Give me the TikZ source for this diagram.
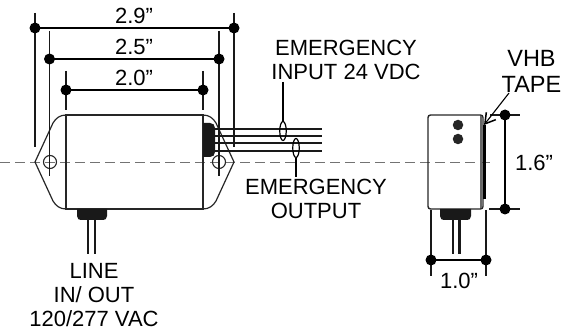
\documentclass[tikz,border=0pt]{standalone}
\usepackage{fontspec}
\setmainfont{Liberation Sans}
\usetikzlibrary{arrows.meta,shapes.geometric}
\tikzset{
  x=1pt,y=-1pt,
  lbl/.style={inner sep=0pt,font=\fontsize{22}{24}\selectfont,text=black,align=center},
  dot/.style={circle,fill=black,draw=none,minimum size=11pt,inner sep=0pt},
  dim/.style={line width=1.3pt,draw=black},
  ext/.style={line width=1.2pt,draw=black!90},
  body/.style={line width=1.4pt,draw=black!85},
  wire/.style={line width=2.4pt,draw=black!90},
  blk/.style={fill=black!90,draw=none},
  ctr/.style={line width=.9pt,draw=black!55,dash pattern=on 10pt off 5pt},
  lens/.style={draw=black,line width=1.2pt,ellipse,minimum width=6.5pt,minimum height=19pt,inner sep=0pt}
}
\begin{document}
\begin{tikzpicture}
\useasboundingbox (0,0) rectangle (564,328);
% centre line
\draw[ctr] (0,162) -- (494,162);
% front view body
\draw[body] (66,115) -- (203,115) -- (203,209) -- (66,209) -- cycle;
\draw[body,line width=1.2pt] (66,115) .. controls (60,115) and (56,118) .. (53,123) -- (35,162) -- (53,201) .. controls (56,206) and (60,209) .. (66,209);
\draw[body,line width=1.2pt] (203,115) .. controls (209,115) and (213,118) .. (216,123) -- (234,162) -- (216,201) .. controls (213,206) and (209,209) .. (203,209);
\node[circle,draw=black!85,line width=1.1pt,minimum size=13pt,inner sep=0pt] (holeL) at (50,162) {};
\node[circle,draw=black!85,line width=1.1pt,minimum size=13pt,inner sep=0pt] (holeR) at (219,162) {};
% connector blocks
\fill[blk] (203,123) -- (210,123) .. controls (213,123) and (215,125) .. (215,128) -- (215,152) .. controls (215,155) and (213,157) .. (210,157) -- (203,157) -- cycle;
\fill[blk] (77,209) -- (107,209) -- (107,216) .. controls (107,219) and (105,220) .. (103,220) -- (81,220) .. controls (79,220) and (77,219) .. (77,216) -- cycle;
% wires
\foreach \y in {129,136,143,151} \draw[wire] (215,\y) -- (322,\y);
\draw[wire] (88,220) -- (88,254);
\draw[wire] (95,220) -- (95,254);
% dimension lines front
\coordinate (a1) at (35,28); \coordinate (a2) at (234,28);
\coordinate (b1) at (49.5,59); \coordinate (b2) at (219,59);
\coordinate (c1) at (66,90); \coordinate (c2) at (203,90);
\draw[ext] (35,13) -- (35,147);
\draw[ext] (234,13) -- (234,147);
\draw[ext] (49.5,31) -- (49.5,176);
\draw[ext] (219,31) -- (219,176);
\draw[ext] (66,71) -- (66,110);
\draw[ext] (203,71) -- (203,110);
\draw[dim] (a1) -- (a2);
\draw[dim] (b1) -- (b2);
\draw[dim] (c1) -- (c2);
\foreach \p in {a1,a2,b1,b2,c1,c2} \node[dot] at (\p) {};
\node[lbl] (t29) at (134,15.5) {2.9”};
\node[lbl] (t25) at (134,46.5) {2.5”};
\node[lbl] (t20) at (134,77.5) {2.0”};
% emergency labels
\node[lbl] (ei) at (346,60) {EMERGENCY\\INPUT 24 VDC};
\node[lbl] (eo) at (316,199) {EMERGENCY\\OUTPUT};
\node[lbl] (line) at (94,295.5) {LINE\\IN/ OUT\\120/277 VAC};
\node[lens] (e1) at (283,131) {};
\node[lens] (e2) at (296,148) {};
\coordinate (e1t) at (283,82);
\coordinate (e2b) at (296,177);
\draw[dim,line width=1.1pt] (e1t) -- (e1);
\draw[dim,line width=1.1pt] (e2) -- (e2b);
% side view
\draw[body,rounded corners=2.5pt] (428,115) rectangle (483,209);
\draw[line width=1.5pt,draw=black!60] (481,116) -- (481,208);
\draw[line width=2.6pt,draw=black] (484.5,125) -- (484.5,199);
\node[circle,fill=black!85,minimum size=10.5pt,inner sep=0pt] (d1) at (458,125) {};
\node[circle,fill=black!85,minimum size=10.5pt,inner sep=0pt] (d2) at (458,139) {};
\fill[blk] (440,209) -- (471,209) -- (471,216) .. controls (471,219) and (469,220) .. (467,220) -- (444,220) .. controls (442,220) and (440,219) .. (440,216) -- cycle;
\draw[wire] (453,220) -- (453,254);
\draw[wire] (459.5,220) -- (459.5,254);
% 1.6
\coordinate (f1) at (505,115); \coordinate (f2) at (505,209);
\draw[ext] (490,115) -- (520,115);
\draw[ext] (489,209) -- (520,209);
\draw[dim] (f1) -- (f2);
\node[dot] at (f1) {}; \node[dot] at (f2) {};
\node[lbl] (t16) at (534,163) {1.6”};
% 1.0
\coordinate (g1) at (431,260); \coordinate (g2) at (486,260);
\draw[ext] (431,210) -- (431,276);
\draw[ext] (486,210) -- (486,276);
\draw[dim] (g1) -- (g2);
\node[dot] at (g1) {}; \node[dot] at (g2) {};
\node[lbl] (t10) at (459,281) {1.0”};
% tape
\node[lbl,font=\fontsize{23.5}{26}\selectfont] (vhb) at (531.5,71) {VHB\\TAPE};
\coordinate (tapeTip) at (484,125);
\draw[line width=1.1pt,draw=black,-{Straight Barb[length=10pt,width=12pt,line width=1.5pt]}] (509,93) -- (tapeTip);
\end{tikzpicture}
\end{document}
